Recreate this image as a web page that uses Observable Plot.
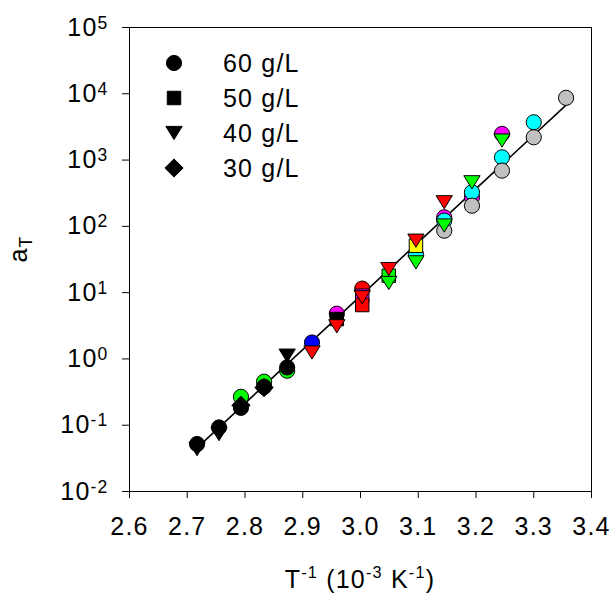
<!DOCTYPE html>
<html><head><meta charset="utf-8">
<script src="https://cdn.jsdelivr.net/npm/d3@7"></script>
<script src="https://cdn.jsdelivr.net/npm/@observablehq/plot@0.6"></script>
<style>
body{margin:0;background:#fff;}
#wrap{position:relative;width:613px;height:593px;}
</style></head><body><div id="wrap"></div>
<script>
// ---- data ----
const xTicks = [2.6, 2.7, 2.8, 2.9, 3.0, 3.1, 3.2, 3.3, 3.4];
const yTicks = [1e-2, 1e-1, 1e0, 1e1, 1e2, 1e3, 1e4, 1e5];
const legendLabels = ["60 g/L", "50 g/L", "40 g/L", "30 g/L"];

// 60 g/L (circles)
const c60X    = [3.145, 3.193, 3.245, 2.959, 3.096, 3.145, 3.193, 3.245, 3.300, 3.145, 3.193, 3.245, 3.300, 3.356, 2.793, 2.833, 2.873, 2.717, 2.755, 2.793, 2.833, 2.873, 2.916, 3.003];
const c60Y    = [137, 274, 2480, 4.81, 38, 122, 327, 1100, 3720, 86, 205, 693, 2210, 8690, 0.268, 0.453, 0.664, 0.052, 0.0925, 0.183, 0.38, 0.745, 1.77, 11.5];
const c60Fill = ["#ff00ff","#ff00ff","#ff00ff","#ff00ff","#00ffff","#00ffff","#00ffff","#00ffff","#00ffff","#c0c0c0","#c0c0c0","#c0c0c0","#c0c0c0","#c0c0c0","#00ff00","#00ff00","#00ff00","#000000","#000000","#000000","#000000","#000000","#0000ff","#ff0000"];

// 50 g/L (squares)
const c50X    = [2.959, 3.003, 3.003, 3.049, 3.096];
const c50Y    = [4.0, 9.0, 6.5, 18, 51];
const c50Fill = ["#000000","#ff00ff","#ff0000","#00ff00","#ffff00"];

// 40 g/L (down triangles)
const c40X    = [2.717, 2.755, 2.873, 2.916, 2.959, 3.003, 3.049, 3.096, 3.145, 3.049, 3.096, 3.145, 3.193, 3.245];
const c40Y    = [0.0436, 0.0735, 1.12, 1.25, 3.1, 8.5, 22.7, 60.8, 231, 14, 28.6, 103, 462, 1970];
const c40Fill = ["#000000","#000000","#000000","#ff0000","#ff0000","#ff0000","#ff0000","#ff0000","#ff0000","#00ff00","#00ff00","#00ff00","#00ff00","#00ff00"];

// 30 g/L (diamonds)
const c30X    = [2.793, 2.833];
const c30Y    = [0.2, 0.37];
const c30Fill = ["#000000","#000000"];

// fitted line
const fitX = [2.717, 3.355];
const fitY = [0.0456, 6640];

// ---- build tables ----
const rows = (xs, ys, fs) => xs.map((x, i) => ({x, y: ys[i], fill: fs[i]}));
const d60 = rows(c60X, c60Y, c60Fill);
const d50 = rows(c50X, c50Y, c50Fill);
const d40 = rows(c40X, c40Y, c40Fill);
const d30 = rows(c30X, c30Y, c30Fill);
const fit = fitX.map((x, i) => ({x, y: fitY[i]}));

// custom symbols
const triDown = {draw(ctx, size) {
  const r = Math.sqrt(size / Math.PI);
  ctx.moveTo(-1.07 * r, -0.87 * r); ctx.lineTo(1.07 * r, -0.87 * r); ctx.lineTo(0, 0.87 * r); ctx.closePath();
}};
const diamond = {draw(ctx, size) {
  const r = Math.sqrt(size / Math.PI);
  const k = 1.2 * r;
  ctx.moveTo(0, -k); ctx.lineTo(k, 0); ctx.lineTo(0, k); ctx.lineTo(-k, 0); ctx.closePath();
}};

const R = 7.6;
const FONT = "Arial, 'Liberation Sans', sans-serif";
const dotOpts = (symbol) => ({x: "x", y: "y", fill: "fill", stroke: "black", strokeWidth: 1, r: R, symbol});

const chart = Plot.plot({
  width: 613, height: 593,
  marginLeft: 129, marginRight: 22, marginTop: 27, marginBottom: 102,
  style: {fontFamily: FONT, fontSize: "25px", background: "white", color: "black", letterSpacing: "1.2px"},
  x: {domain: [2.6, 3.4], ticks: xTicks, tickFormat: d => d.toFixed(1), tickSize: 7, tickPadding: 19, label: null},
  y: {type: "log", domain: [1e-2, 1e5], ticks: yTicks, tickFormat: d => String(Math.round(Math.log10(d))), tickSize: 7, tickPadding: 14, label: null},
  color: {type: "identity"},
  marks: [
    Plot.frame({stroke: "black", strokeWidth: 1}),
    Plot.line(fit, {x: "x", y: "y", stroke: "black", strokeWidth: 1.6}),
    Plot.dot(d60, dotOpts("circle")),
    Plot.dot(d50, dotOpts("square")),
    Plot.dot(d40, dotOpts(triDown)),
    Plot.dot(d30, dotOpts(diamond))
  ]
});

document.getElementById("wrap").appendChild(chart);
const svg = d3.select(chart);

// y tick labels as 10^n
svg.selectAll('[aria-label="y-axis tick label"] text').each(function() {
  const t = d3.select(this);
  const e = t.text().replace("\u2212", "-");
  t.text("");
  t.append("tspan").text("10");
  t.append("tspan").attr("font-size", "0.7em").attr("dy", "-0.4em").text(e);
});

// axis titles
const xl = svg.append("text").attr("x", 360).attr("y", 588)
  .attr("text-anchor", "middle").attr("font-family", FONT).attr("font-size", 25).attr("fill", "black");
xl.append("tspan").text("T");
xl.append("tspan").attr("font-size", "0.65em").attr("dy", "-0.6em").text("-1");
xl.append("tspan").attr("dy", "0.39em").text(" (10");
xl.append("tspan").attr("font-size", "0.65em").attr("dy", "-0.6em").text("-3");
xl.append("tspan").attr("dy", "0.39em").text(" K");
xl.append("tspan").attr("font-size", "0.65em").attr("dy", "-0.6em").text("-1");
xl.append("tspan").attr("dy", "0.39em").text(")");

const yl = svg.append("text").attr("transform", "translate(27,249) rotate(-90)")
  .attr("text-anchor", "middle").attr("font-family", FONT).attr("font-size", 25).attr("fill", "black");
yl.append("tspan").text("a");
yl.append("tspan").attr("font-size", "0.7em").attr("dy", "0.3em").text("T");

// legend
const legendSymbols = [d3.symbolCircle, d3.symbolSquare, triDown, diamond];
const lg = svg.append("g").attr("font-family", FONT).attr("font-size", 25).attr("text-anchor", "start");
legendLabels.forEach((lab, i) => {
  const yy = 63 + i * 35;
  lg.append("path").attr("transform", `translate(174,${yy})`)
    .attr("d", d3.symbol(legendSymbols[i], Math.PI * R * R)()).attr("fill", "black").attr("stroke", "black");
  lg.append("text").attr("x", 223).attr("y", yy).attr("dy", "0.36em").attr("text-anchor", "start").attr("fill", "black").text(lab);
});
</script></body></html>
